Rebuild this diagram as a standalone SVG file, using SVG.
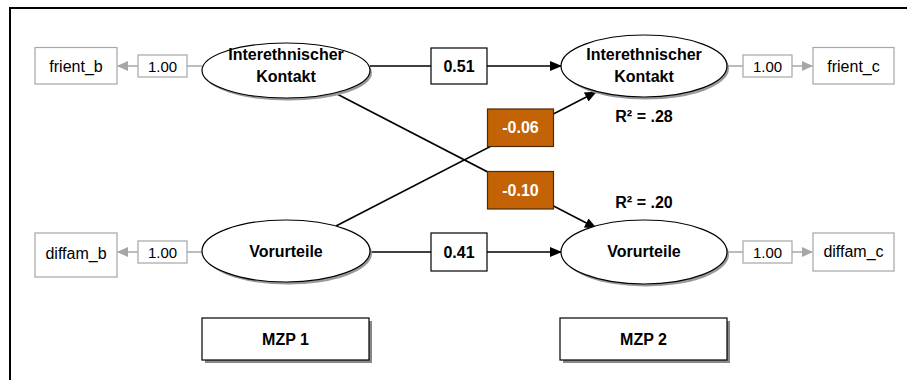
<svg xmlns="http://www.w3.org/2000/svg" width="907" height="380" viewBox="0 0 907 380">
<defs>
<style>
text{font-family:"Liberation Sans",Arial,sans-serif;text-anchor:middle}
.b{font-weight:bold;font-size:16px;fill:#000}
.w{font-weight:bold;font-size:16px;fill:#fff}
.r{font-size:16px;fill:#000}
.n{font-size:15px;fill:#000}
.ell{fill:#fff;stroke:#000;stroke-width:1.2}
.sh{fill:#999}
.ind{fill:#fff;stroke:#a6a6a6;stroke-width:1.2}
.coef{fill:#fff;stroke:#000;stroke-width:1.2}
.org{fill:#c46306;stroke:#4a2c0c;stroke-width:1.2}
.gl{stroke:#a6a6a6;stroke-width:1.5;fill:none}
.bl{stroke:#000;stroke-width:1.6;fill:none}
</style>
<marker id="ab" markerWidth="12" markerHeight="10" refX="11" refY="5" orient="auto" markerUnits="userSpaceOnUse"><path d="M0,0 L12,5 L0,10 Z" fill="#000"/></marker>
<marker id="ag" markerWidth="11" markerHeight="10" refX="10" refY="5" orient="auto" markerUnits="userSpaceOnUse"><path d="M0,0 L11,5 L0,10 Z" fill="#a6a6a6"/></marker>
</defs>
<rect width="907" height="380" fill="#fff"/>
<g id="frame"><path d="M10,380 L10,8 L907,8" fill="none" stroke="#000" stroke-width="2"/></g>

<g id="connectors">
<path class="gl" d="M202,66 L187,66"/>
<path class="gl" d="M138,66 L118,66" marker-end="url(#ag)"/>
<path class="gl" d="M202,252 L187,252"/>
<path class="gl" d="M138,252 L118,252" marker-end="url(#ag)"/>
<path class="gl" d="M727,66 L743,66"/>
<path class="gl" d="M792,66 L812,66" marker-end="url(#ag)"/>
<path class="gl" d="M727,252 L743,252"/>
<path class="gl" d="M792,252 L812,252" marker-end="url(#ag)"/>
<path class="bl" d="M370,66 L431,66"/>
<path class="bl" d="M487,66 L561,66" marker-end="url(#ab)"/>
<path class="bl" d="M370,252 L431,252"/>
<path class="bl" d="M487,252 L561,252" marker-end="url(#ab)"/>
<path class="bl" d="M337,94 L596,228" marker-end="url(#ab)"/>
<path class="bl" d="M336,226 L596,92" marker-end="url(#ab)"/>
</g>

<g id="kontakt1">
<ellipse class="sh" cx="288" cy="73" rx="84" ry="27.5"/>
<ellipse class="ell" cx="286" cy="70.5" rx="84" ry="27.5"/>
<text class="b" x="286" y="59.5">Interethnischer</text>
<text class="b" x="286" y="82">Kontakt</text>
</g>
<g id="vorurteile1">
<ellipse class="sh" cx="288" cy="253.5" rx="84" ry="31"/>
<ellipse class="ell" cx="286" cy="251" rx="84" ry="31"/>
<text class="b" x="286" y="257">Vorurteile</text>
</g>
<g id="kontakt2">
<ellipse class="sh" cx="646" cy="68.5" rx="83" ry="31"/>
<ellipse class="ell" cx="644" cy="66" rx="83" ry="31"/>
<text class="b" x="644" y="59.5">Interethnischer</text>
<text class="b" x="644" y="82">Kontakt</text>
</g>
<g id="vorurteile2">
<ellipse class="sh" cx="646" cy="254.5" rx="83" ry="32"/>
<ellipse class="ell" cx="644" cy="252" rx="83" ry="32"/>
<text class="b" x="644" y="257">Vorurteile</text>
</g>

<g id="frient_b"><rect class="ind" x="35" y="47.5" width="82" height="36.5"/><text class="r" x="76" y="71.5">frient_b</text></g>
<g id="load1"><rect class="ind" x="138" y="55" width="49" height="22"/><text class="n" x="162.5" y="71.5">1.00</text></g>
<g id="diffam_b"><rect class="ind" x="35" y="233" width="82" height="44"/><text class="r" x="76" y="259">diffam_b</text></g>
<g id="load2"><rect class="ind" x="138" y="241" width="49" height="22"/><text class="n" x="162.5" y="257.5">1.00</text></g>
<g id="frient_c"><rect class="ind" x="813" y="47.5" width="81" height="36.5"/><text class="r" x="853.5" y="71.5">frient_c</text></g>
<g id="load3"><rect class="ind" x="743" y="55" width="49" height="22"/><text class="n" x="767.5" y="71.5">1.00</text></g>
<g id="diffam_c"><rect class="ind" x="813" y="233" width="81" height="38"/><text class="r" x="853.5" y="257">diffam_c</text></g>
<g id="load4"><rect class="ind" x="743" y="241" width="49" height="22"/><text class="n" x="767.5" y="257.5">1.00</text></g>

<g id="c051"><rect class="coef" x="431" y="48" width="56" height="36"/><text class="b" x="459" y="71.5">0.51</text></g>
<g id="c041"><rect class="coef" x="431" y="233" width="56" height="38"/><text class="b" x="459" y="257.5">0.41</text></g>
<g id="cm006"><rect class="org" x="487.5" y="109" width="66" height="37.5"/><text class="w" x="520.5" y="133">-0.06</text></g>
<g id="cm010"><rect class="org" x="487.5" y="171.5" width="66" height="37.5"/><text class="w" x="520.5" y="195.5">-0.10</text></g>

<g id="r2a"><text class="b" x="644" y="122">R² = .28</text></g>
<g id="r2b"><text class="b" x="644" y="207.5">R² = .20</text></g>

<g id="mzp1"><rect x="205" y="321" width="167" height="42" fill="#888"/><rect x="202" y="318" width="167" height="42" fill="#fff" stroke="#000" stroke-width="1.2"/><text class="b" x="285.5" y="344.5">MZP 1</text></g>
<g id="mzp2"><rect x="563" y="321" width="167" height="42" fill="#888"/><rect x="560" y="318" width="167" height="42" fill="#fff" stroke="#000" stroke-width="1.2"/><text class="b" x="643.5" y="344.5">MZP 2</text></g>
</svg>
